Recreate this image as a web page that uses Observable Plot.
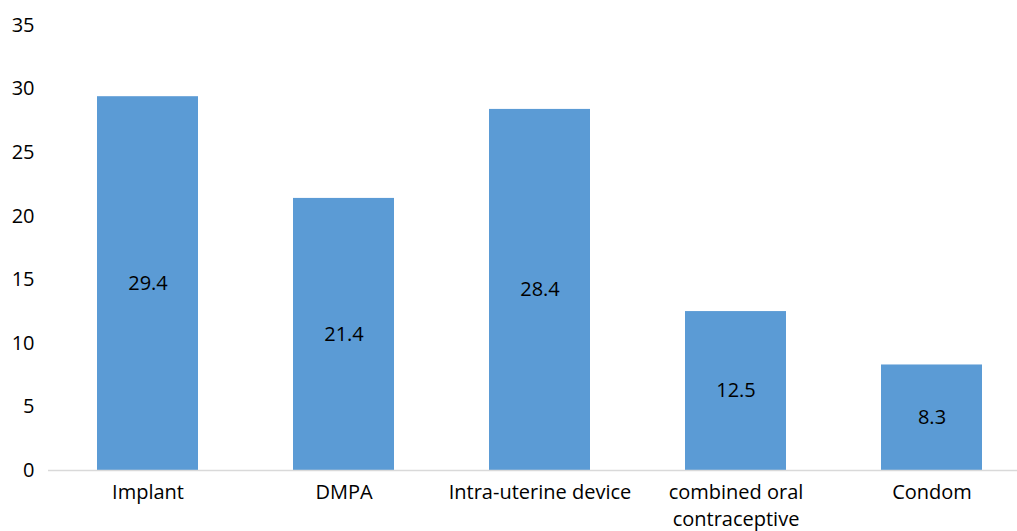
<!DOCTYPE html>
<html><head><meta charset="utf-8">
<script src="https://cdn.jsdelivr.net/npm/d3@7"></script>
<script src="https://cdn.jsdelivr.net/npm/@observablehq/plot@0.6"></script>
<style>
body{margin:0;background:#fff;}
svg{font-family:"Open Sans",sans-serif;}
</style></head>
<body><div id="chart"></div>
<script>
const methods = ["Implant","DMPA","Intra-uterine device","combined oral contraceptive","Condom"];
const percents = [29.4,21.4,28.4,12.5,8.3];
const yTicks = [0,5,10,15,20,25,30,35];
const data = methods.map((m,i)=>({method:m, value:percents[i]}));
const wrap = d => d === "combined oral contraceptive" ? "combined oral\ncontraceptive" : d;

const chart = Plot.plot({
  width:1017, height:531,
  marginLeft:48, marginRight:0, marginTop:25, marginBottom:61,
  style:{fontSize:"20px", fontFamily:"'Open Sans',sans-serif", color:"#000", background:"#fff"},
  x:{domain:methods, range:[47,1031], paddingInner:0.487, paddingOuter:0.2435, label:null},
  y:{domain:[0,35], ticks:yTicks, label:null},
  marks:[
    Plot.barY(data,{x:"method", y:"value", fill:"#5B9BD5"}),
    Plot.ruleY([0],{stroke:"#d9d9d9", strokeWidth:1.5}),
    Plot.text(data,{x:"method", y:d=>d.value/2, text:d=>d.value.toFixed(1), fill:"#000", fontSize:20}),
    Plot.axisY({ticks:yTicks, tickSize:0, tickPadding:14, fontSize:20, label:null}),
    Plot.axisX({tickSize:0, tickPadding:9, fontSize:20, label:null, tickFormat:wrap, lineHeight:1.35, textAnchor:"middle", lineAnchor:"top"})
  ]
});
document.getElementById("chart").appendChild(chart);
</script></body></html>
